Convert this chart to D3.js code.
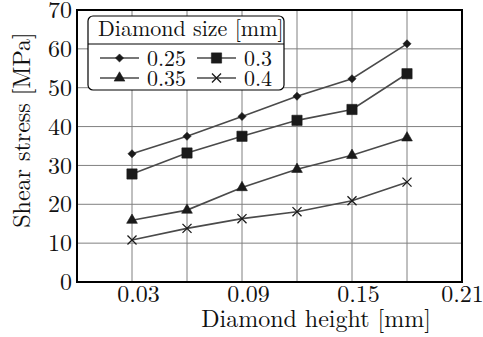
<!DOCTYPE html>
<html>
<head>
<meta charset="utf-8">
<script src="https://cdn.jsdelivr.net/npm/d3@7.9.0/dist/d3.min.js"></script>
<style>
  body { margin: 0; background: #fff; }
</style>
</head>
<body>
<svg id="chart" width="483" height="337"></svg>
<script>
// data
const heights = [0.03, 0.06, 0.09, 0.12, 0.15, 0.18];
const sizes = ['0.25', '0.3', '0.35', '0.4'];
const stress025 = [33.0, 37.5, 42.6, 47.8, 52.3, 61.3];
const stress03 = [27.8, 33.2, 37.5, 41.6, 44.4, 53.6];
const stress035 = [15.9, 18.5, 24.3, 29.0, 32.6, 37.1];
const stress04 = [10.8, 13.8, 16.3, 18.1, 20.9, 25.7];
const xTicks = [0.03, 0.09, 0.15, 0.21];
const xGrid = [0.03, 0.06, 0.09, 0.12, 0.15, 0.18];
const yTicks = [0, 10, 20, 30, 40, 50, 60, 70];

const series = [stress025, stress03, stress035, stress04];
const symbols = [d3.symbolDiamond2, d3.symbolSquare, d3.symbolTriangle, d3.symbolTimes];
const symSize = [42, 105, 50, 55];

const FONT = '"Latin Modern Roman", "Liberation Serif", serif';

const svg = d3.select('#chart');
const plotL = 77, plotR = 462, plotT = 10, plotB = 282;

const x = d3.scaleLinear().domain([0, 0.21]).range([plotL, plotR]);
const y = d3.scaleLinear().domain([0, 70]).range([plotB, plotT]);

// grid
svg.append('g').selectAll('line').data(xGrid).join('line')
  .attr('x1', d => x(d)).attr('x2', d => x(d))
  .attr('y1', plotT).attr('y2', plotB)
  .attr('stroke', '#808080').attr('stroke-width', 1);
svg.append('g').selectAll('line').data(yTicks.slice(1, -1)).join('line')
  .attr('x1', plotL).attr('x2', plotR)
  .attr('y1', d => y(d)).attr('y2', d => y(d))
  .attr('stroke', '#808080').attr('stroke-width', 1);

// axes (labels only, no tick marks)
const xAxis = svg.append('g')
  .attr('transform', `translate(0,${plotB})`)
  .call(d3.axisBottom(x).tickValues(xTicks).tickSize(0)
    .tickFormat(d3.format('.2f')));
xAxis.select('.domain').remove();
xAxis.selectAll('text')
  .attr('y', 20).attr('dy', 0)
  .attr('dx', d => d < 0.2 ? 6 : 0)
  .style('font-family', FONT).style('font-size', '24px').attr('fill', '#111');

const yAxis = svg.append('g')
  .attr('transform', `translate(${plotL},0)`)
  .call(d3.axisLeft(y).tickValues(yTicks).tickSize(0).tickPadding(5));
yAxis.select('.domain').remove();
yAxis.selectAll('text')
  .style('font-family', FONT).style('font-size', '24px').attr('fill', '#111');

// lines and markers
const line = d3.line().x((d, i) => x(heights[i])).y(d => y(d));
series.forEach((vals, k) => {
  svg.append('path').datum(vals)
    .attr('d', line)
    .attr('fill', 'none').attr('stroke', '#4a4a4a').attr('stroke-width', 1.6);
  const isX = symbols[k] === d3.symbolTimes;
  svg.append('g').selectAll('path').data(vals).join('path')
    .attr('transform', (d, i) => `translate(${x(heights[i])},${y(d)})`)
    .attr('d', d3.symbol(symbols[k], symSize[k]))
    .attr('fill', isX ? 'none' : '#1a1a1a')
    .attr('stroke', '#1a1a1a').attr('stroke-width', isX ? 1.3 : 0.6);
});

// frame
svg.append('rect')
  .attr('x', plotL).attr('y', plotT)
  .attr('width', plotR - plotL).attr('height', plotB - plotT)
  .attr('fill', 'none').attr('stroke', '#000').attr('stroke-width', 2);

// axis titles
svg.append('text')
  .attr('x', 316).attr('y', 327).attr('text-anchor', 'middle')
  .style('font-family', FONT).style('font-size', '24px').attr('fill', '#111')
  .text('Diamond height [mm]');
svg.append('text')
  .attr('transform', 'translate(30,130) rotate(-90)').attr('text-anchor', 'middle')
  .style('font-family', FONT).style('font-size', '24px').attr('fill', '#111')
  .text('Shear stress [MPa]');

// legend
const lg = svg.append('g');
lg.append('rect')
  .attr('x', 88).attr('y', 16).attr('width', 196).attr('height', 74).attr('rx', 5)
  .attr('fill', '#fff').attr('stroke', '#000').attr('stroke-width', 1.2);
lg.append('line')
  .attr('x1', 88).attr('x2', 284).attr('y1', 44).attr('y2', 44)
  .attr('stroke', '#000').attr('stroke-width', 1);
lg.append('text')
  .attr('x', 98).attr('y', 36)
  .style('font-family', FONT).style('font-size', '22px').attr('fill', '#111')
  .text('Diamond size [mm]');

const lx = [100, 197], ly = [58, 78];
sizes.forEach((s, k) => {
  const cx = lx[k % 2], cy = ly[Math.floor(k / 2)];
  lg.append('line')
    .attr('x1', cx).attr('x2', cx + 39).attr('y1', cy).attr('y2', cy)
    .attr('stroke', '#4a4a4a').attr('stroke-width', 1.6);
  const isX = symbols[k] === d3.symbolTimes;
  lg.append('path')
    .attr('transform', `translate(${cx + 19.5},${cy})`)
    .attr('d', d3.symbol(symbols[k], symSize[k]))
    .attr('fill', isX ? 'none' : '#1a1a1a')
    .attr('stroke', '#1a1a1a').attr('stroke-width', isX ? 1.3 : 0.6);
  lg.append('text')
    .attr('x', cx + 47).attr('y', cy + 7.5)
    .style('font-family', FONT).style('font-size', '22px').attr('fill', '#111')
    .text(s);
});
</script>
</body>
</html>
